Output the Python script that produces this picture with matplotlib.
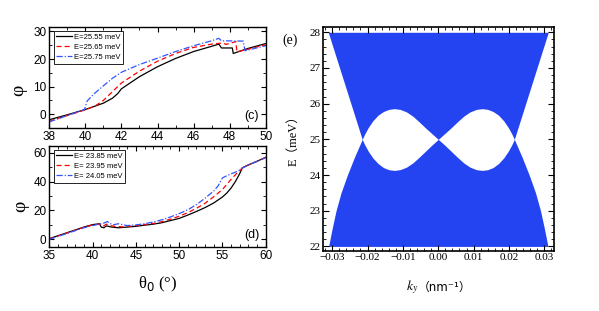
import numpy as np
import matplotlib.pyplot as plt
from matplotlib.ticker import MultipleLocator

# ---- panel (c) data ----
th_c1 = [38, 39, 40, 41, 41.5, 41.8, 42, 43, 44, 45, 46, 47, 47.4, 47.55, 48.15, 48.2, 49, 50]
phi_c1 = [-2.0, -0.2, 1.7, 4.0, 5.8, 7.5, 9.2, 13.6, 17.2, 20.2, 22.7, 24.6, 25.4, 24.0, 24.0, 22.0, 23.8, 25.6]
th_c2 = [38, 39, 40, 40.5, 41, 42, 43, 44, 45, 46, 47, 47.6, 47.8, 48.35, 48.4, 49, 50]
phi_c2 = [-2.5, -0.5, 1.6, 2.8, 5.0, 11.3, 15.6, 19.2, 22.0, 24.2, 25.4, 25.8, 25.3, 26.3, 22.6, 23.5, 25.2]
th_c3 = [38, 39, 39.95, 40.1, 40.5, 41, 41.5, 42, 43, 44, 45, 46, 47, 47.4, 47.55, 48.75, 48.85, 50]
phi_c3 = [-2.8, -0.5, 1.7, 4.8, 7.5, 10.3, 13.0, 15.2, 18.0, 20.3, 22.7, 24.8, 26.6, 27.5, 26.6, 26.5, 23.0, 24.8]
labels_c = ['E=25.55 meV', 'E=25.65 meV', 'E=25.75 meV']

# ---- panel (d) data ----
th_d1 = [35, 36, 37, 38, 39, 40, 40.8, 41.0, 41.3, 41.6, 42.2, 43.0, 44, 45, 46, 47, 48, 49, 50,
         51, 52, 53, 54, 55, 55.5, 56, 56.5, 57, 57.3, 58, 59, 60]
phi_d1 = [0.5, 2.5, 4.5, 6.5, 8.5, 10.2, 10.8, 8.5, 8.0, 9.3, 8.5, 8.0, 8.5, 9.0, 9.8, 10.5, 11.5, 13.0, 14.5,
          16.8, 19.3, 22.0, 25.2, 29.3, 32.0, 35.5, 40.0, 45.5, 49.5, 51.5, 54.0, 56.8]
th_d2 = [35, 36, 37, 38, 39, 40, 40.8, 41.2, 41.6, 42.0, 42.6, 43.5, 44.5, 46, 47, 48, 49, 50,
         51, 52, 53, 54, 55, 55.5, 56, 56.3, 56.8, 57.3, 58, 59, 60]
phi_d2 = [0.3, 2.3, 4.3, 6.3, 8.3, 10.0, 10.5, 9.0, 10.5, 9.5, 9.0, 8.6, 9.2, 10.2, 11.0, 12.2, 14.0, 16.0,
          18.5, 21.5, 25.0, 29.5, 34.5, 38.0, 41.5, 43.5, 46.5, 49.3, 51.5, 54.0, 56.7]
th_d3 = [35, 36, 37, 38, 39, 40, 40.7, 41.2, 41.7, 42.3, 43.0, 44, 45, 46, 47, 48, 49, 50,
         51, 52, 53, 54, 54.5, 55.0, 55.5, 56, 56.5, 57, 57.3, 58, 59, 60]
phi_d3 = [0.0, 2.0, 4.0, 6.0, 8.0, 9.5, 10.5, 11.0, 12.3, 10.0, 10.8, 9.5, 10.0, 10.8, 12.0, 13.5, 15.5, 17.8,
          20.5, 24.0, 28.5, 33.5, 37.0, 42.5, 44.0, 45.3, 46.5, 48.0, 49.3, 51.5, 54.0, 56.5]
labels_d = ['E= 23.85 meV', 'E= 23.95 meV', 'E= 24.05 meV']

# ---- panel (e) data: band boundaries ----
E_out = np.array([22.0, 22.5, 23.0, 23.5, 24.0, 24.5, 25.0, 25.5, 26.0, 26.5, 27.0, 27.5, 28.0])
k_out = np.array([0.0310, 0.0300, 0.0289, 0.0275, 0.0257, 0.0237, 0.0215, 0.0231, 0.0247, 0.0263,
                  0.0279, 0.0295, 0.0311])
k_lobe = np.array([-0.0215, -0.0208, -0.0198, -0.0185, -0.017, -0.0155, -0.014, -0.0124, -0.0108,
                   -0.009, -0.0072, -0.0054, -0.0036, -0.0018, 0.0])
E_lobe_up = np.array([25.0, 25.15, 25.33, 25.52, 25.68, 25.78, 25.84, 25.86, 25.84, 25.77, 25.65,
                      25.49, 25.32, 25.16, 25.0])
E_lobe_lo = np.array([25.0, 24.85, 24.67, 24.48, 24.32, 24.21, 24.15, 24.13, 24.15, 24.22, 24.34,
                      24.5, 24.67, 24.84, 25.0])

W, H = 599, 311
fig = plt.figure(figsize=(W / 100, H / 100), dpi=100)


def box(l, t, r, b):
    return [l / W, 1 - b / H, (r - l) / W, (b - t) / H]


ax_c = fig.add_axes(box(49.3, 27, 265.7, 128))
ax_d = fig.add_axes(box(49.3, 146, 265.7, 247.3))
ax_e = fig.add_axes(box(323.3, 27.3, 554.3, 250.7))

sans = 'Liberation Sans'
serif = 'Liberation Serif'
blue_line = '#3355ff'


def style_left(ax):
    ax.tick_params(which='both', direction='in', top=True, right=True, labelsize=8.5, pad=2)
    ax.tick_params(which='major', length=3.5, width=0.8)
    ax.tick_params(which='minor', length=2, width=0.6)
    for lab in ax.get_xticklabels() + ax.get_yticklabels():
        lab.set_family(sans)
    for s in ax.spines.values():
        s.set_linewidth(1.0)


for ax, ths, phis, labs in [(ax_c, (th_c1, th_c2, th_c3), (phi_c1, phi_c2, phi_c3), labels_c),
                             (ax_d, (th_d1, th_d2, th_d3), (phi_d1, phi_d2, phi_d3), labels_d)]:
    ax.plot(ths[0], phis[0], color='black', lw=0.9, label=labs[0])
    ax.plot(ths[1], phis[1], color='red', lw=0.9, ls=(0, (4, 2.5)), label=labs[1])
    ax.plot(ths[2], phis[2], color=blue_line, lw=0.9, ls=(0, (5, 1.5, 1, 1.5)), label=labs[2])
    leg = ax.legend(loc='upper left', bbox_to_anchor=(0.02, 0.96), fancybox=False, framealpha=1,
                    edgecolor='black', prop={'family': sans, 'size': 5.5}, handlelength=2.0,
                    handletextpad=0.3, labelspacing=0.35, borderpad=0.35, borderaxespad=0)
    leg.get_frame().set_linewidth(0.6)

ax_c.set_xlim(38, 50)
ax_c.set_ylim(-5, 31.6)
ax_c.xaxis.set_major_locator(MultipleLocator(2))
ax_c.xaxis.set_minor_locator(MultipleLocator(1))
ax_c.yaxis.set_major_locator(MultipleLocator(10))
ax_c.yaxis.set_minor_locator(MultipleLocator(5))
style_left(ax_c)
ax_c.text(0.935, 0.12, '(c)', transform=ax_c.transAxes, ha='center', va='center',
          family=sans, fontsize=9)

ax_d.set_xlim(35, 60)
ax_d.set_ylim(-5.5, 64.6)
ax_d.xaxis.set_major_locator(MultipleLocator(5))
ax_d.xaxis.set_minor_locator(MultipleLocator(1))
ax_d.yaxis.set_major_locator(MultipleLocator(20))
ax_d.yaxis.set_minor_locator(MultipleLocator(10))
style_left(ax_d)
ax_d.text(0.935, 0.12, '(d)', transform=ax_d.transAxes, ha='center', va='center',
          family=sans, fontsize=9)

fig.text(18.5 / W, 1 - 90 / H, 'φ', rotation=90, ha='center', va='center', family=serif, fontsize=14)
fig.text(20.5 / W, 1 - 206 / H, 'φ', rotation=90, ha='center', va='center', family=serif, fontsize=14)
fig.text(158 / W, 1 - 284 / H, r'θ$_0$ (°)', ha='center', va='center', family=serif, fontsize=12)

# ---- panel (e) ----
band_blue = '#2444f2'
ax_e.fill_betweenx(E_out, -k_out, k_out, color=band_blue, lw=0)
k_all = np.concatenate([k_lobe, -k_lobe[::-1][1:]])
up_all = np.concatenate([E_lobe_up, E_lobe_up[::-1][1:]])
lo_all = np.concatenate([E_lobe_lo, E_lobe_lo[::-1][1:]])
ax_e.fill_between(k_all, lo_all, up_all, color='white', lw=0)

ax_e.set_xlim(-0.0325, 0.0328)
ax_e.set_ylim(21.88, 28.14)
ax_e.set_xticks([-0.03, -0.02, -0.01, 0.0, 0.01, 0.02, 0.03])
ax_e.set_xticklabels(['−0.03', '−0.02', '−0.01', '0.00', '0.01', '0.02', '0.03'])
ax_e.xaxis.set_minor_locator(MultipleLocator(0.002))
ax_e.yaxis.set_major_locator(MultipleLocator(1))
ax_e.yaxis.set_minor_locator(MultipleLocator(0.2))
ax_e.tick_params(which='both', direction='in', top=True, right=True, labelsize=8, pad=2)
ax_e.tick_params(which='major', length=4, width=0.8)
ax_e.tick_params(which='minor', length=2, width=0.6)
for lab in ax_e.get_xticklabels() + ax_e.get_yticklabels():
    lab.set_family(serif)
for s in ax_e.spines.values():
    s.set_linewidth(1.2)

fig.text(290 / W, 1 - 40 / H, '(e)', ha='center', va='center', family=serif, fontsize=10)
fig.text(293.5 / W, 1 - 138 / H, 'E（meV）', rotation=90, ha='center', va='center',
         family=[serif, 'Noto Sans CJK SC'], fontsize=9)
fig.text(412 / W, 1 - 287 / H, '$k_y$', ha='center', va='center', fontsize=10,
         math_fontfamily='stix')
fig.text(418 / W, 1 - 287 / H, '（nm⁻¹）', ha='left', va='center',
         family=['DejaVu Sans', 'Noto Sans CJK SC'], fontsize=8.5)

fig.savefig('out.png', dpi=100)
